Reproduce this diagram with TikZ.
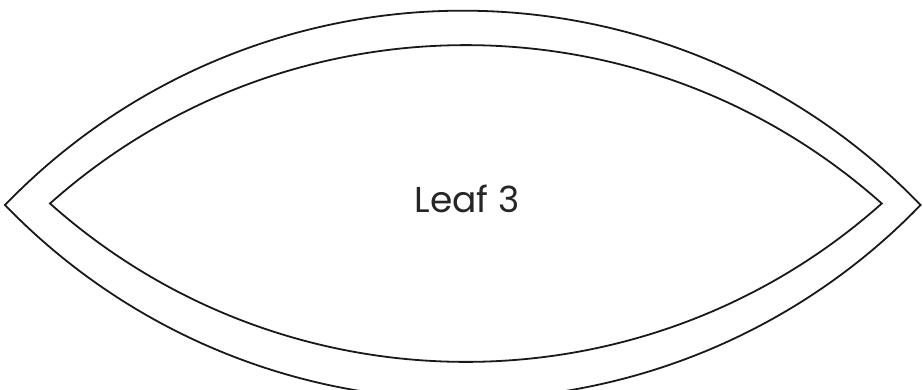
\documentclass[tikz,border=0pt]{standalone}
\usepackage{fontspec}
\setmainfont{Poppins}
\begin{document}
\begin{tikzpicture}[x=1pt,y=-1pt,
  leafline/.style={draw=black!90,line width=1.8pt,line join=miter}]
\useasboundingbox (0,0) rectangle (923,389);
% outer lens: tips (5,205)-(920,205), top at y=11
\coordinate (oL) at (5,205);
\coordinate (iL) at (50,203.5);
\draw[leafline] (oL) arc[start angle=-136.0,end angle=-44.0,radius=636.4]
  arc[start angle=44.0,end angle=136.0,radius=636.4] -- cycle;
\draw[leafline] (iL) arc[start angle=-131.7,end angle=-48.3,radius=625.2]
  arc[start angle=48.3,end angle=131.7,radius=625.2] -- cycle;
\node[font=\fontsize{36}{40}\selectfont,text=black!85,anchor=base] (t) at (467,212) {Leaf 3};
\end{tikzpicture}
\end{document}
